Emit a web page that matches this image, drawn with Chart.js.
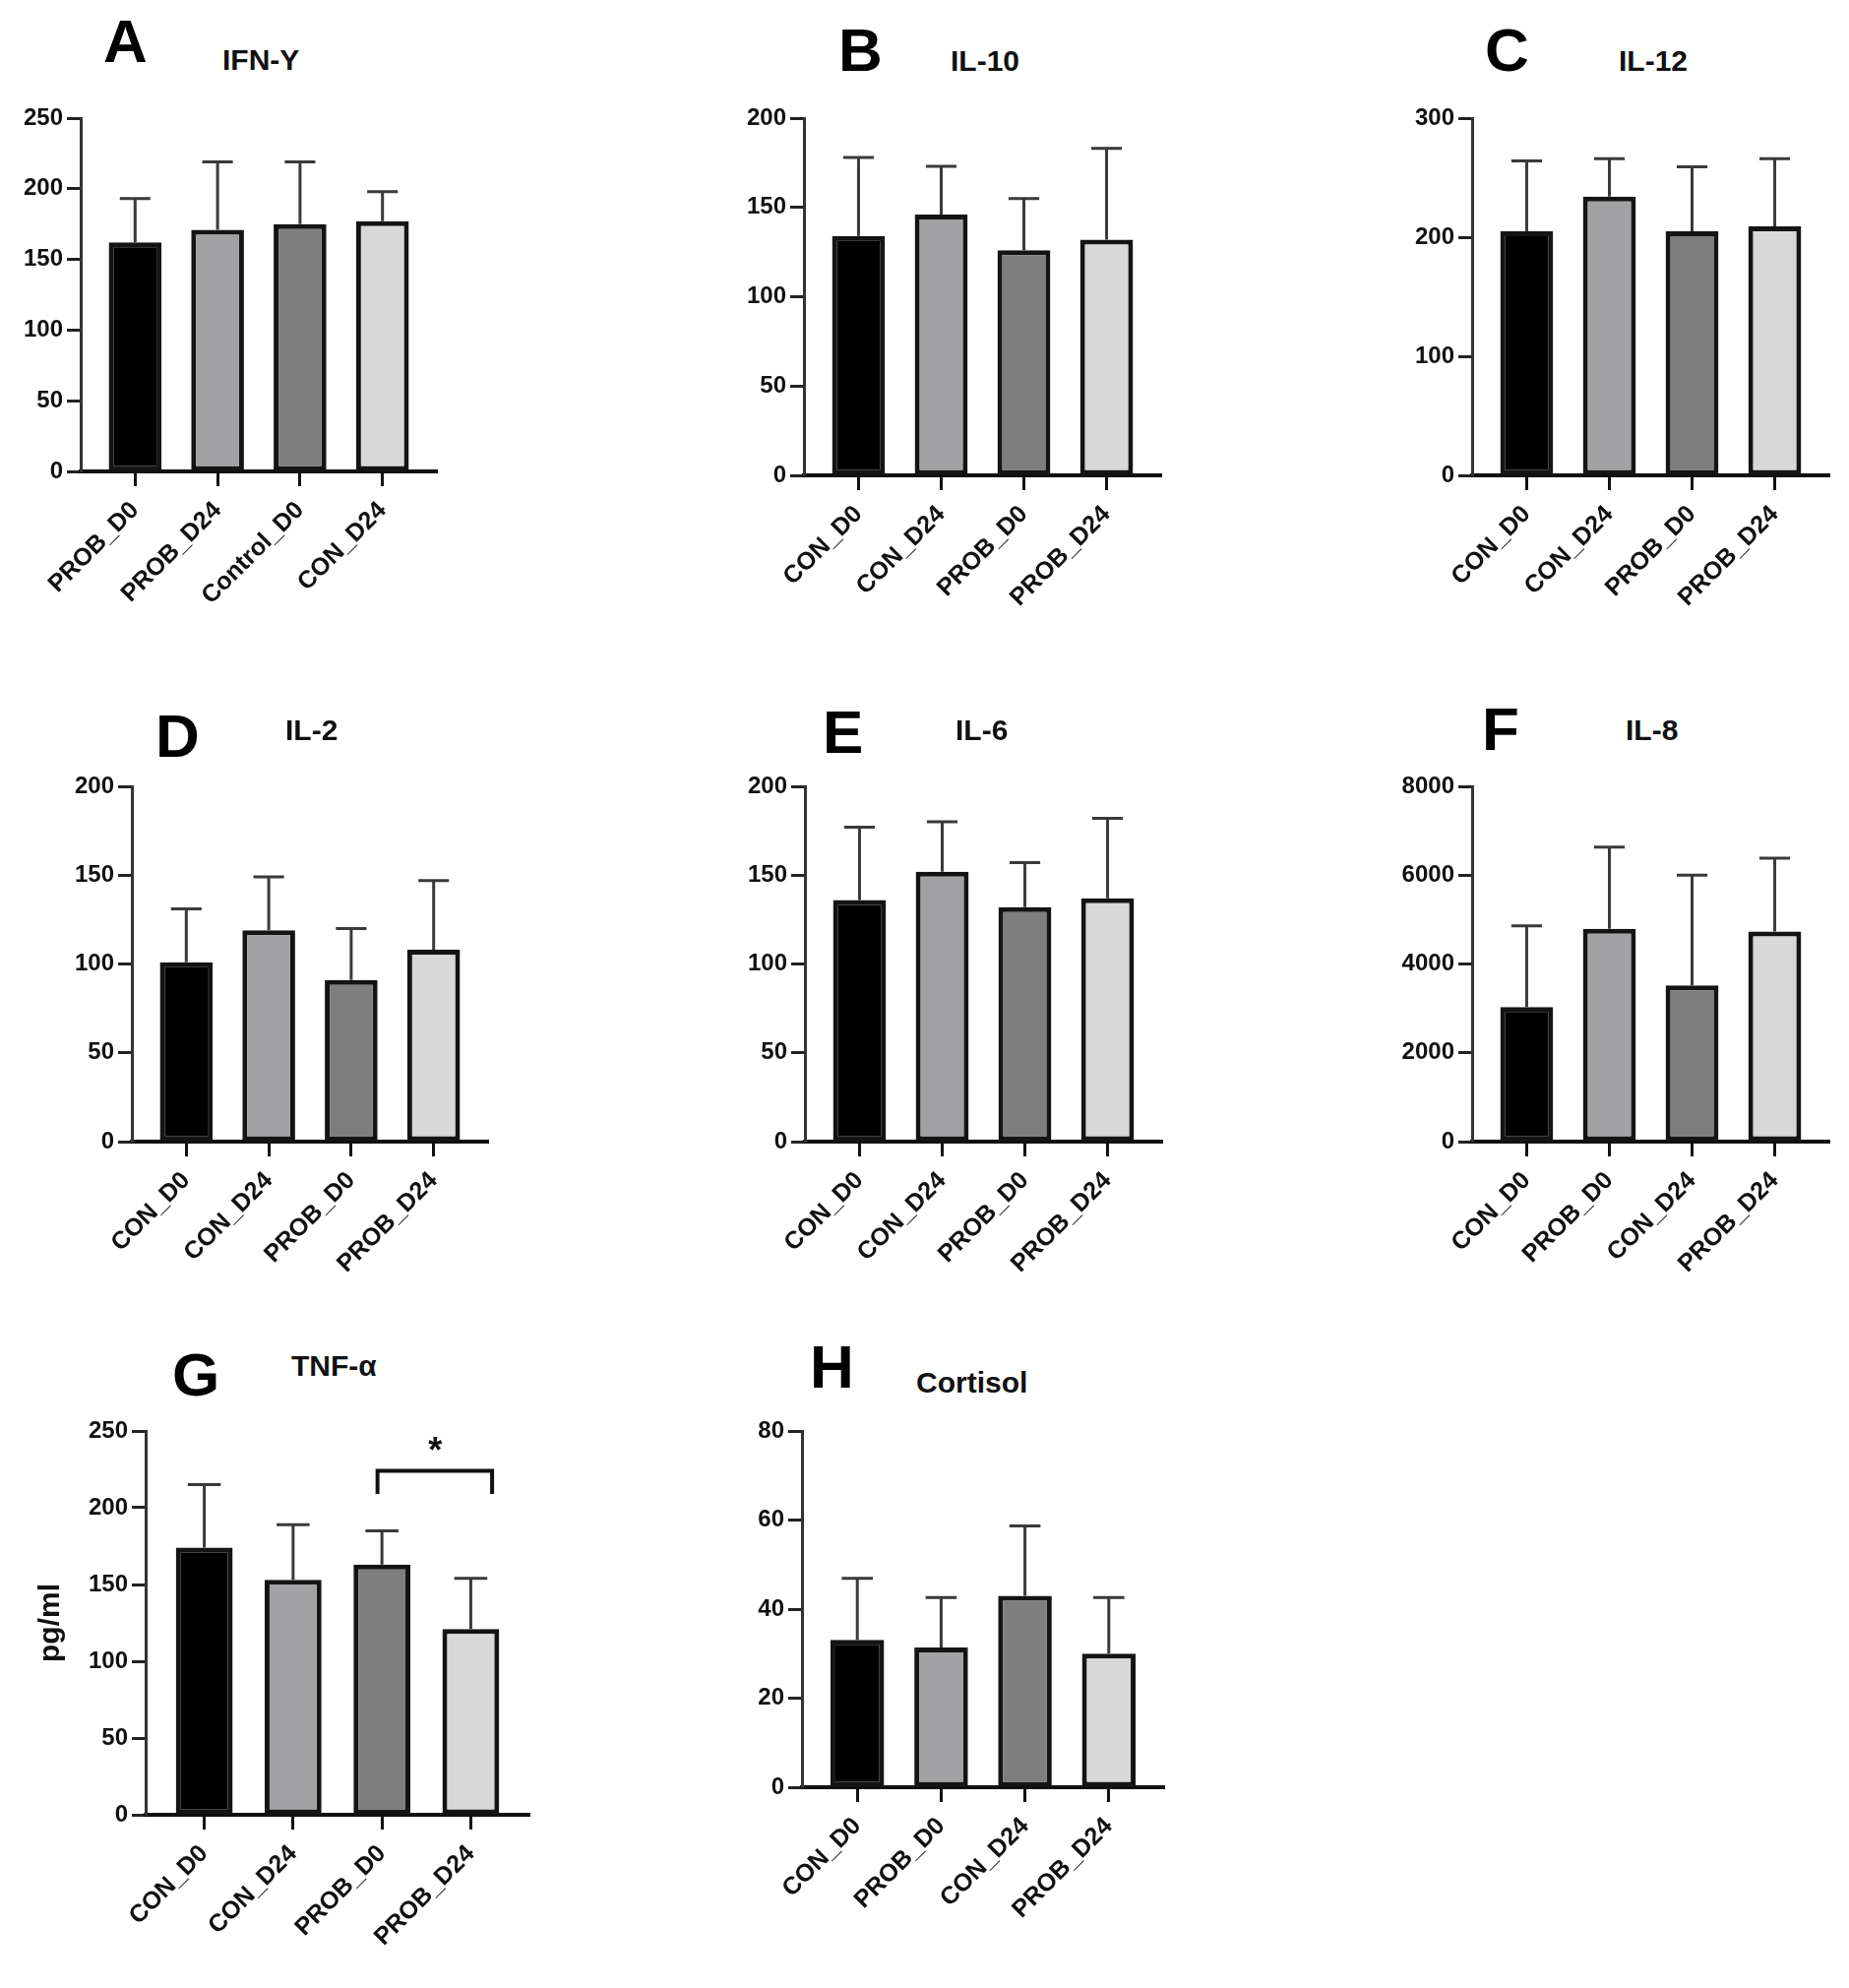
<!DOCTYPE html>
<html>
<head>
<meta charset="utf-8">
<title>Cytokines</title>
<script src="https://cdn.jsdelivr.net/npm/chart.js@4.4.1/dist/chart.umd.min.js"></script>
<style>
    body { margin: 0; background: #fff; width: 1879px; height: 2020px; position: relative; overflow: hidden;
           font-family: "Liberation Sans", Arial, sans-serif; }
    .letter { position: absolute; font-weight: bold; font-size: 62px; line-height: 1; color: #000; }
    .title { position: absolute; font-weight: bold; font-size: 30px; line-height: 1; color: #111; }
    canvas { position: absolute; }
</style>
</head>
<body>
<script>
// groups (order differs per panel)
const groupsA = ["PROB_D0", "PROB_D24", "Control_D0", "CON_D24"];
const groupsStd = ["CON_D0", "CON_D24", "PROB_D0", "PROB_D24"];
const groupsF = ["CON_D0", "PROB_D0", "CON_D24", "PROB_D24"];
const groupsH = ["CON_D0", "PROB_D0", "CON_D24", "PROB_D24"];

// means and SD
const ifnMean = [162, 171, 175, 177];
const ifnSd = [31, 48, 44, 21];
const il10Mean = [134, 146, 126, 132];
const il10Sd = [44, 27, 29, 51];
const il12Mean = [205, 234, 205, 209];
const il12Sd = [59, 32, 54, 57];
const il2Mean = [101, 119, 91, 108];
const il2Sd = [30, 30, 29, 39];
const il6Mean = [136, 152, 132, 137];
const il6Sd = [41, 28, 25, 45];
const il8Mean = [3030, 4790, 3520, 4730];
const il8Sd = [1830, 1840, 2480, 1650];
const tnfMean = [174, 153, 163, 121];
const tnfSd = [41, 36, 22, 33];
const cortMean = [33.1, 31.4, 43.0, 30.0];
const cortSd = [13.8, 11.2, 15.7, 12.6];

// y tick labels
const ticks250 = [0, 50, 100, 150, 200, 250];
const ticks200 = [0, 50, 100, 150, 200];
const ticks300 = [0, 100, 200, 300];
const ticks8000 = [0, 2000, 4000, 6000, 8000];
const ticks80 = [0, 20, 40, 60, 80];

// significance bracket in TNF-a (data units)
const tnfSig = { from: 2.95, to: 4.24, y: 224, leg: 209, star: 243 };

const barFill = ["#000000", "#a2a2a5", "#7e7e7e", "#d8d8d8"];
const FONT = "'Liberation Sans', Arial, sans-serif";
Chart.defaults.font.family = FONT;

const panels = [
    { letter: "A", title: "IFN-Y", labels: groupsA, mean: ifnMean, sd: ifnSd, ticks: ticks250,
      box: [82, 444, 120, 479], letterAt: [105, 11], titleAt: [226, 46] },
    { letter: "B", title: "IL-10", labels: groupsStd, mean: il10Mean, sd: il10Sd, ticks: ticks200,
      box: [817, 1180, 120, 483], letterAt: [852, 20], titleAt: [966, 47] },
    { letter: "C", title: "IL-12", labels: groupsStd, mean: il12Mean, sd: il12Sd, ticks: ticks300,
      box: [1496, 1859, 120, 483], letterAt: [1509, 20], titleAt: [1645, 47] },
    { letter: "D", title: "IL-2", labels: groupsStd, mean: il2Mean, sd: il2Sd, ticks: ticks200,
      box: [134, 496, 799, 1160], letterAt: [158, 717], titleAt: [290, 727] },
    { letter: "E", title: "IL-6", labels: groupsStd, mean: il6Mean, sd: il6Sd, ticks: ticks200,
      box: [818, 1181, 799, 1160], letterAt: [836, 713], titleAt: [971, 727] },
    { letter: "F", title: "IL-8", labels: groupsF, mean: il8Mean, sd: il8Sd, ticks: ticks8000,
      box: [1496, 1859, 799, 1160], letterAt: [1506, 710], titleAt: [1652, 727] },
    { letter: "G", title: "TNF-α", labels: groupsStd, mean: tnfMean, sd: tnfSd, ticks: ticks250,
      box: [148, 538, 1454, 1844], letterAt: [175, 1366], titleAt: [296, 1373], yTitle: "pg/ml", sig: tnfSig },
    { letter: "H", title: "Cortisol", labels: groupsH, mean: cortMean, sd: cortSd, ticks: ticks80,
      box: [815, 1183, 1454, 1816], letterAt: [823, 1358], titleAt: [931, 1390] },
];

function addText(cls, text, at) {
    const d = document.createElement("div");
    d.className = cls;
    d.textContent = text;
    d.style.left = at[0] + "px";
    d.style.top = at[1] + "px";
    document.body.appendChild(d);
}

function errBars(sd) {
    return {
        id: "errBars",
        afterDatasetsDraw(chart) {
            const { ctx } = chart;
            const y = chart.scales.y;
            const meta = chart.getDatasetMeta(0);
            const data = chart.data.datasets[0].data;
            ctx.save();
            ctx.strokeStyle = "#3a3a3a";
            ctx.lineWidth = 3;
            meta.data.forEach((bar, i) => {
                const base = y.getPixelForValue(data[i].y);
                const top = y.getPixelForValue(data[i].y + sd[i]);
                const half = bar.width * 0.29;
                ctx.beginPath();
                ctx.moveTo(bar.x, base);
                ctx.lineTo(bar.x, top);
                ctx.moveTo(bar.x - half, top);
                ctx.lineTo(bar.x + half, top);
                ctx.stroke();
            });
            ctx.restore();
        },
    };
}

function sigBracket(sig) {
    return {
        id: "sigBracket",
        afterDraw(chart) {
            if (!sig) return;
            const { ctx } = chart;
            const x = chart.scales.x, y = chart.scales.y;
            const x1 = x.getPixelForValue(sig.from), x2 = x.getPixelForValue(sig.to);
            const yb = y.getPixelForValue(sig.y), yl = y.getPixelForValue(sig.leg);
            ctx.save();
            ctx.strokeStyle = "#111";
            ctx.lineWidth = 4;
            ctx.beginPath();
            ctx.moveTo(x1, yl);
            ctx.lineTo(x1, yb);
            ctx.lineTo(x2, yb);
            ctx.lineTo(x2, yl);
            ctx.stroke();
            ctx.fillStyle = "#111";
            ctx.font = "bold 36px " + FONT;
            ctx.textAlign = "center";
            ctx.textBaseline = "alphabetic";
            ctx.fillText("*", x.getPixelForValue(3.6), y.getPixelForValue(sig.star) + 21);
            ctx.restore();
        },
    };
}

function makePanel(p) {
    const [left, right, top, bottom] = p.box;
    const yW = p.yTitle ? 114 : 84;
    const padTop = 22, padRight = 12, xH = 190;
    const w = yW + (right - left) + padRight;
    const h = padTop + (bottom - top) + xH;

    const cv = document.createElement("canvas");
    cv.width = w;
    cv.height = h;
    cv.style.width = w + "px";
    cv.style.height = h + "px";
    cv.style.left = (left - yW) + "px";
    cv.style.top = (top - padTop) + "px";
    document.body.appendChild(cv);

    addText("letter", p.letter, p.letterAt);
    addText("title", p.title, p.titleAt);

    new Chart(cv, {
        type: "bar",
        data: {
            datasets: [{
                data: p.mean.map((v, i) => ({ x: i + 1, y: v })),
                backgroundColor: barFill,
                borderColor: "#141414",
                borderWidth: 5,
                borderSkipped: false,
                barPercentage: 0.64,
                categoryPercentage: 1,
            }],
        },
        options: {
            responsive: false,
            animation: false,
            devicePixelRatio: 1,
            layout: { autoPadding: false, padding: { top: padTop, right: padRight, left: 0, bottom: 0 } },
            plugins: { legend: { display: false }, tooltip: { enabled: false } },
            scales: {
                x: {
                    type: "linear",
                    offset: false,
                    min: 0.34,
                    max: 4.66,
                    afterBuildTicks: (s) => { s.ticks = p.labels.map((_, i) => ({ value: i + 1 })); },
                    afterFit: (s) => { s.height = xH; },
                    grid: { offset: false, drawOnChartArea: false, drawTicks: true, tickLength: 15, tickWidth: 3, tickColor: "#111" },
                    border: { display: true, color: "#111", width: 4 },
                    ticks: {
                        autoSkip: false, minRotation: 45, maxRotation: 45, padding: 10, color: "#111",
                        font: { size: 25, weight: "bold" },
                        callback: (v) => p.labels[v - 1],
                    },
                },
                y: {
                    min: 0,
                    max: p.ticks[p.ticks.length - 1],
                    afterBuildTicks: (s) => { s.ticks = p.ticks.map((v) => ({ value: v })); },
                    afterFit: (s) => { s.width = yW; },
                    grid: { drawOnChartArea: false, tickLength: 14, tickWidth: 3, tickColor: "#222" },
                    border: { color: "#333", width: 3 },
                    ticks: { padding: 4, color: "#111", font: { size: 24, weight: "bold" }, callback: (v) => String(v) },
                    title: p.yTitle
                        ? { display: true, text: p.yTitle, color: "#111", padding: 0, font: { size: 30, weight: "bold" } }
                        : { display: false },
                },
            },
        },
        plugins: [errBars(p.sd), sigBracket(p.sig)],
    });
}

panels.forEach(makePanel);
</script>
</body>
</html>
